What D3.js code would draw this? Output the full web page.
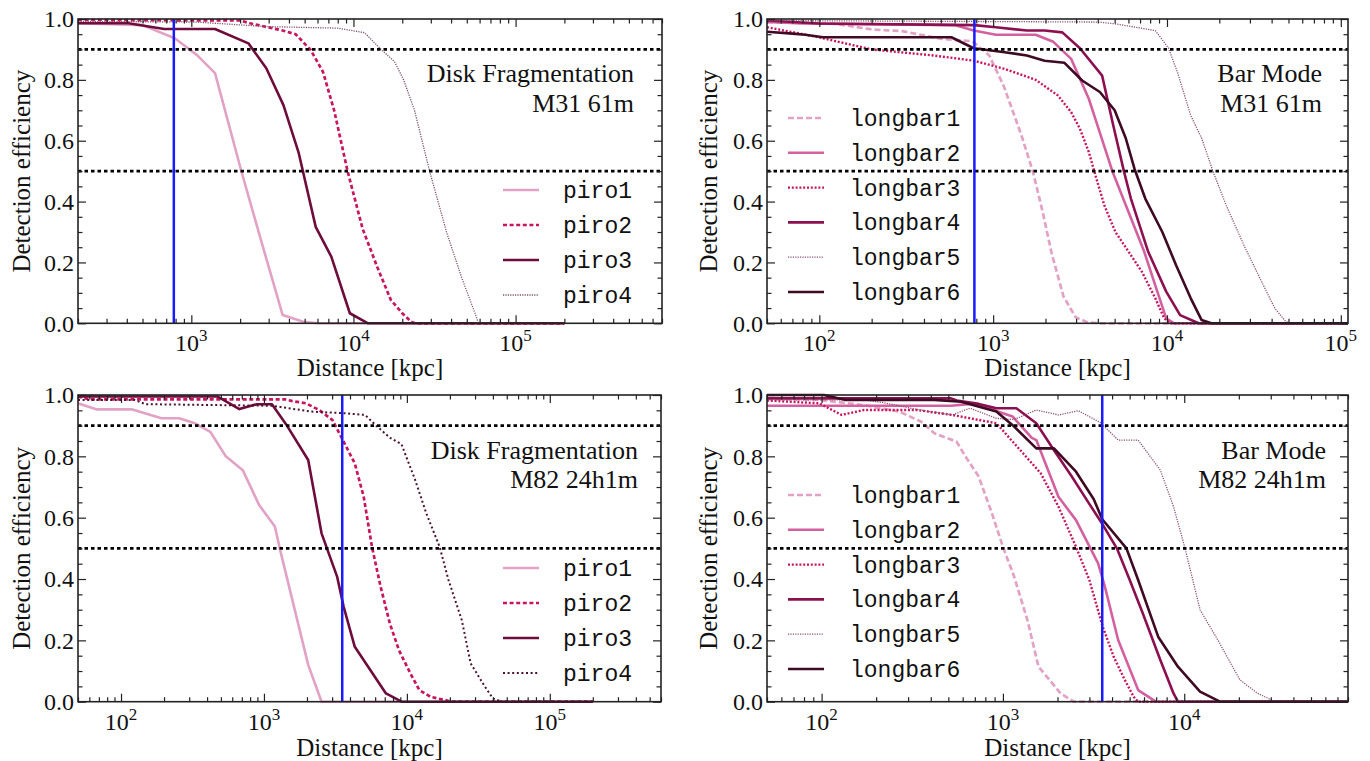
<!DOCTYPE html>
<html>
<head>
<meta charset="utf-8">
<script src="https://cdn.jsdelivr.net/npm/d3@7"></script>
<style>
  html, body { margin: 0; padding: 0; background: #ffffff; }
  svg { display: block; }
</style>
</head>
<body>
<svg id="fig" width="1370" height="761"></svg>
<script>
// ---------------- data: [distance (kpc), detection efficiency] ----------------
const piroNames = ["piro1", "piro2", "piro3", "piro4"];
const longbarNames = ["longbar1", "longbar2", "longbar3", "longbar4", "longbar5", "longbar6"];

// Disk fragmentation, M31 61m
const m31Piro1 = [[200,0.986],[500,0.98],[790,0.937],[1080,0.882],[1400,0.822],[2040,0.498],[2700,0.27],[3660,0.027],[4900,0.005],[6000,0],[2e5,0]];
const m31Piro2 = [[200,0.997],[2000,0.995],[2300,0.986],[3600,0.963],[4400,0.95],[5450,0.898],[6500,0.825],[7600,0.70],[9200,0.50],[11400,0.31],[14000,0.186],[17000,0.077],[20000,0.033],[22700,0.005],[24000,0],[2e5,0]];
const m31Piro3 = [[200,0.986],[410,0.986],[680,0.967],[1400,0.967],[2250,0.92],[2900,0.838],[3700,0.717],[4600,0.559],[5850,0.317],[7300,0.219],[9500,0.033],[12300,0],[2e5,0]];
const m31Piro4 = [[200,0.992],[1070,0.99],[2900,0.975],[8000,0.97],[11700,0.955],[14800,0.9],[17900,0.86],[20400,0.8],[23800,0.7],[29500,0.5],[37500,0.3],[46500,0.15],[56500,0.03],[59000,0],[2e5,0]];

// Bar mode, M31 61m
const m31Longbar1 = [[50,0.99],[120,0.985],[205,0.965],[300,0.96],[500,0.935],[760,0.927],[950,0.88],[1150,0.78],[1450,0.62],[1690,0.50],[1920,0.37],[2170,0.23],[2540,0.088],[2980,0.02],[3500,0.003],[4200,0],[1.1e5,0]];
const m31Longbar2 = [[50,0.99],[80,0.985],[600,0.98],[773,0.962],[1036,0.948],[1757,0.948],[2220,0.925],[2810,0.869],[3550,0.738],[4100,0.628],[4850,0.50],[5800,0.388],[7400,0.235],[8800,0.104],[9900,0.016],[11000,0],[1.1e5,0]];
const m31Longbar3 = [[50,0.973],[99,0.94],[200,0.90],[456,0.88],[773,0.863],[1165,0.836],[1757,0.80],[2355,0.749],[2810,0.694],[3157,0.639],[3550,0.563],[3877,0.486],[4360,0.388],[5050,0.30],[6020,0.235],[7180,0.169],[8570,0.082],[9640,0.016],[10500,0],[1.1e5,0]];
const m31Longbar4 = [[50,0.995],[100,0.985],[780,0.98],[1036,0.973],[1563,0.962],[1976,0.962],[2500,0.956],[3157,0.904],[4235,0.814],[4910,0.65],[5650,0.50],[6200,0.41],[7800,0.235],[9900,0.104],[11900,0.027],[15200,0],[1.1e5,0]];
const m31Longbar5 = [[50,0.995],[3990,0.99],[5050,0.984],[8570,0.962],[10210,0.904],[11490,0.825],[13700,0.683],[15860,0.607],[18370,0.50],[21890,0.388],[27690,0.257],[35000,0.137],[41760,0.049],[48350,0.005],[52000,0],[1.1e5,0]];
const m31Longbar6 = [[50,0.958],[70,0.952],[83,0.948],[105,0.94],[575,0.94],[773,0.904],[1165,0.891],[1563,0.88],[1976,0.863],[2572,0.856],[3250,0.798],[4110,0.76],[5000,0.70],[5800,0.607],[6500,0.508],[7500,0.41],[9400,0.30],[11300,0.19],[13700,0.082],[15800,0.011],[18000,0],[1.1e5,0]];

// Disk fragmentation, M82 24h1m
const m82Piro1 = [[50,0.973],[68,0.953],[120,0.953],[192,0.924],[255,0.924],[328,0.908],[421,0.88],[541,0.80],[711,0.755],[926,0.641],[1193,0.571],[1290,0.50],[2040,0.12],[2530,0],[2e5,0]];
const m82Piro2 = [[50,0.995],[60,0.986],[1400,0.986],[1585,0.98],[1966,0.973],[2436,0.951],[3020,0.918],[3610,0.848],[4320,0.777],[4990,0.668],[5700,0.505],[6550,0.375],[7600,0.255],[8800,0.168],[10590,0.092],[12220,0.038],[14620,0.016],[19460,0.003],[21000,0],[2e5,0]];
const m82Piro3 = [[50,0.995],[475,0.995],[673,0.954],[893,0.97],[1138,0.97],[1427,0.905],[2040,0.788],[2530,0.549],[3250,0.408],[3610,0.31],[4320,0.179],[5760,0.092],[7140,0.027],[9180,0],[2e5,0]];
const m82Piro4 = [[50,0.984],[124,0.984],[149,0.97],[1138,0.965],[2140,0.946],[3820,0.94],[5100,0.935],[6100,0.90],[7640,0.86],[9160,0.84],[11430,0.723],[13680,0.614],[16950,0.505],[19550,0.397],[24220,0.266],[27950,0.125],[34620,0.054],[39930,0.011],[46100,0],[2e5,0]];

// Bar mode, M82 24h1m
const m82Longbar1 = [[50,0.989],[97,0.984],[171,0.967],[268,0.946],[354,0.913],[419,0.875],[555,0.848],[621,0.80],[735,0.734],[870,0.614],[1000,0.505],[1153,0.408],[1365,0.266],[1571,0.114],[1808,0.071],[2080,0.027],[2460,0],[8e4,0]];
const m82Longbar2 = [[50,0.965],[518,0.965],[693,0.972],[1130,0.93],[1443,0.86],[1528,0.853],[2024,0.668],[2530,0.592],[3350,0.451],[3650,0.375],[4320,0.201],[5570,0.038],[6970,0],[8e4,0]];
const m82Longbar3 = [[50,0.982],[97,0.973],[129,0.935],[171,0.951],[335,0.951],[525,0.935],[920,0.908],[1291,0.81],[1615,0.745],[2024,0.636],[2530,0.505],[2995,0.397],[3550,0.245],[4080,0.147],[4700,0.071],[5260,0.016],[5560,0],[8e4,0]];
const m82Longbar4 = [[50,0.989],[518,0.989],[556,0.982],[736,0.971],[920,0.957],[1186,0.957],[1528,0.908],[1913,0.82],[2393,0.735],[2995,0.645],[3530,0.58],[4250,0.50],[4980,0.40],[5890,0.29],[7380,0.136],[8730,0.027],[9230,0],[8e4,0]];
const m82Longbar5 = [[50,0.984],[171,0.984],[220,0.975],[335,0.953],[525,0.935],[657,0.957],[920,0.924],[1153,0.92],[1528,0.951],[2024,0.935],[2600,0.949],[3450,0.91],[4320,0.853],[5570,0.853],[7380,0.755],[8730,0.636],[10050,0.505],[12240,0.299],[15320,0.201],[20280,0.071],[25410,0.027],[31770,0],[8e4,0]];
const m82Longbar6 = [[50,1.0],[103,1.0],[136,0.984],[419,0.984],[588,0.978],[920,0.946],[1153,0.897],[1528,0.826],[1913,0.826],[2530,0.75],[3170,0.66],[3530,0.595],[4800,0.50],[5570,0.397],[7180,0.212],[9230,0.114],[12220,0.033],[15740,0],[8e4,0]];

// reference levels and galaxy distances (kpc)
const efficiencyLevels = [0.9, 0.5];
const m31Distance = 780;
const m82Distance = 3530;

// axis ticks
const yMajorTicks = [0, 0.2, 0.4, 0.6, 0.8, 1.0];
const yTickLabels = ["0.0", "0.2", "0.4", "0.6", "0.8", "1.0"];
const xLabel = "Distance [kpc]";
const yLabel = "Detection efficiency";

// panel annotations
const m31DiskTitle = ["Disk Fragmentation", "M31 61m"];
const m31BarTitle = ["Bar Mode", "M31 61m"];
const m82DiskTitle = ["Disk Fragmentation", "M82 24h1m"];
const m82BarTitle = ["Bar Mode", "M82 24h1m"];

// ---------------- styles ----------------
const piroStylesTop = [
  { color: "#e2a2c6", width: 2.6, dash: null },
  { color: "#c8155f", width: 2.7, dash: "4,2.6" },
  { color: "#6e0c3c", width: 2.6, dash: null },
  { color: "#7d5068", width: 1.3, dash: "1.2,1.2" }
];
const piroStylesBottom = [
  { color: "#e2a2c6", width: 2.6, dash: null },
  { color: "#c8155f", width: 2.7, dash: "4,2.6" },
  { color: "#6e0c3c", width: 2.6, dash: null },
  { color: "#4a1430", width: 2.0, dash: "2,2.6" }
];
const longbarStyles = [
  { color: "#e2a2c6", width: 2.7, dash: "6,3" },
  { color: "#d4619f", width: 2.6, dash: null },
  { color: "#c8155f", width: 2.4, dash: "2,1.8" },
  { color: "#8c1050", width: 2.6, dash: null },
  { color: "#8a5070", width: 1.3, dash: "1.2,1.2" },
  { color: "#3e0a24", width: 2.6, dash: null }
];

const serif = "'Liberation Serif', 'DejaVu Serif', serif";
const mono = "'Liberation Mono', 'DejaVu Sans Mono', monospace";

const panels = [
  { id: "m31disk", x0: 78, x1: 662, y0: 19, y1: 323.3, domain: [200, 8e5],
    curves: [m31Piro1, m31Piro2, m31Piro3, m31Piro4], names: piroNames, styles: piroStylesTop,
    marker: m31Distance, title: m31DiskTitle, titleX: 634, titleY: [73, 103],
    legend: { lx0: 503, lx1: 539, tx: 563, y: 190, step: 35 }, yLabelX: 21, xLabelY: 367 },
  { id: "m31bar", x0: 767, x1: 1348, y0: 19, y1: 323.3, domain: [50, 1.1e5],
    curves: [m31Longbar1, m31Longbar2, m31Longbar3, m31Longbar4, m31Longbar5, m31Longbar6], names: longbarNames, styles: longbarStyles,
    marker: m31Distance, title: m31BarTitle, titleX: 1322, titleY: [73, 103],
    legend: { lx0: 788, lx1: 824, tx: 850, y: 118, step: 34.8 }, yLabelX: 708, xLabelY: 367 },
  { id: "m82disk", x0: 78, x1: 661, y0: 395, y1: 701.7, domain: [50, 6e5],
    curves: [m82Piro1, m82Piro2, m82Piro3, m82Piro4], names: piroNames, styles: piroStylesBottom,
    marker: m82Distance, title: m82DiskTitle, titleX: 638, titleY: [450, 479],
    legend: { lx0: 503, lx1: 539, tx: 563, y: 568, step: 35 }, yLabelX: 21, xLabelY: 747 },
  { id: "m82bar", x0: 767, x1: 1348, y0: 395, y1: 701.7, domain: [50, 8e4],
    curves: [m82Longbar1, m82Longbar2, m82Longbar3, m82Longbar4, m82Longbar5, m82Longbar6], names: longbarNames, styles: longbarStyles,
    marker: m82Distance, title: m82BarTitle, titleX: 1326, titleY: [450, 479],
    legend: { lx0: 788, lx1: 824, tx: 850, y: 495, step: 34.8 }, yLabelX: 708, xLabelY: 747 }
];

const svg = d3.select("#fig");
const defs = svg.append("defs");

panels.forEach(p => {
  const x = d3.scaleLog().domain(p.domain).range([p.x0, p.x1]);
  const y = d3.scaleLinear().domain([0, 1]).range([p.y1, p.y0]);
  const g = svg.append("g").attr("class", "panel " + p.id);

  defs.append("clipPath").attr("id", "clip-" + p.id)
    .append("rect").attr("x", p.x0).attr("y", p.y0 - 2)
    .attr("width", p.x1 - p.x0).attr("height", p.y1 - p.y0 + 4);

  // curves
  const line = d3.line().x(d => x(d[0])).y(d => y(d[1]));
  const plot = g.append("g").attr("clip-path", `url(#clip-${p.id})`);
  p.curves.forEach((c, i) => {
    const s = p.styles[i];
    plot.append("path").datum(c)
      .attr("d", line)
      .attr("fill", "none")
      .attr("stroke", s.color)
      .attr("stroke-width", s.width)
      .attr("stroke-dasharray", s.dash)
      .attr("stroke-linejoin", "round");
  });

  // efficiency reference levels
  plot.selectAll("line.level").data(efficiencyLevels).enter().append("line")
    .attr("class", "level")
    .attr("x1", p.x0).attr("x2", p.x1)
    .attr("y1", d => y(d)).attr("y2", d => y(d))
    .attr("stroke", "#000").attr("stroke-width", 2.7)
    .attr("stroke-dasharray", "3.5,3");

  // galaxy distance
  plot.append("line")
    .attr("x1", x(p.marker)).attr("x2", x(p.marker))
    .attr("y1", p.y0).attr("y2", p.y1)
    .attr("stroke", "#1a1aff").attr("stroke-width", 2.5);

  // ticks (inward, on all four sides)
  const lo = Math.floor(Math.log10(p.domain[0])), hi = Math.ceil(Math.log10(p.domain[1]));
  const xMajor = [], xMinor = [];
  for (let e = lo; e <= hi; e++) {
    const v = Math.pow(10, e);
    if (v >= p.domain[0] && v <= p.domain[1] * 1.0001) xMajor.push(v);
    for (let k = 2; k <= 9; k++) {
      const m = k * v;
      if (m >= p.domain[0] && m <= p.domain[1]) xMinor.push(m);
    }
  }
  const yMinor = d3.range(0, 1.0001, 0.05).filter(v => !yMajorTicks.some(t => Math.abs(t - v) < 1e-6));

  const tickStyle = sel => {
    sel.select(".domain").remove();
    sel.selectAll(".tick line").attr("stroke", "#222").attr("stroke-width", 1.2);
    sel.selectAll(".tick text").remove();
  };
  const majorLen = 8, minorLen = 4.5;
  g.append("g").attr("transform", `translate(0,${p.y1})`)
    .call(d3.axisBottom(x).tickValues(xMajor).tickSize(-majorLen).tickFormat("")).call(tickStyle);
  g.append("g").attr("transform", `translate(0,${p.y1})`)
    .call(d3.axisBottom(x).tickValues(xMinor).tickSize(-minorLen).tickFormat("")).call(tickStyle);
  g.append("g").attr("transform", `translate(0,${p.y0})`)
    .call(d3.axisTop(x).tickValues(xMajor).tickSize(-majorLen).tickFormat("")).call(tickStyle);
  g.append("g").attr("transform", `translate(0,${p.y0})`)
    .call(d3.axisTop(x).tickValues(xMinor).tickSize(-minorLen).tickFormat("")).call(tickStyle);
  g.append("g").attr("transform", `translate(${p.x0},0)`)
    .call(d3.axisLeft(y).tickValues(yMajorTicks).tickSize(-majorLen).tickFormat("")).call(tickStyle);
  g.append("g").attr("transform", `translate(${p.x0},0)`)
    .call(d3.axisLeft(y).tickValues(yMinor).tickSize(-minorLen).tickFormat("")).call(tickStyle);
  g.append("g").attr("transform", `translate(${p.x1},0)`)
    .call(d3.axisRight(y).tickValues(yMajorTicks).tickSize(-majorLen).tickFormat("")).call(tickStyle);
  g.append("g").attr("transform", `translate(${p.x1},0)`)
    .call(d3.axisRight(y).tickValues(yMinor).tickSize(-minorLen).tickFormat("")).call(tickStyle);

  // frame
  g.append("rect")
    .attr("x", p.x0).attr("y", p.y0)
    .attr("width", p.x1 - p.x0).attr("height", p.y1 - p.y0)
    .attr("fill", "none").attr("stroke", "#222").attr("stroke-width", 1.6);

  // x tick labels as powers of ten
  xMajor.forEach(v => {
    const t = g.append("text")
      .attr("x", x(v)).attr("y", p.y1 + 28)
      .attr("text-anchor", "middle")
      .attr("font-family", serif).attr("font-size", 24).attr("fill", "#111");
    t.append("tspan").text("10");
    t.append("tspan").attr("dy", -10).attr("font-size", 17).text(String(Math.round(Math.log10(v))));
  });

  // y tick labels
  yMajorTicks.forEach((v, i) => {
    g.append("text")
      .attr("x", p.x0 - 4).attr("y", y(v))
      .attr("dy", "0.35em")
      .attr("text-anchor", "end")
      .attr("font-family", serif).attr("font-size", 24).attr("fill", "#111")
      .text(yTickLabels[i]);
  });

  // axis titles
  g.append("text")
    .attr("x", (p.x0 + p.x1) / 2).attr("y", p.xLabelY)
    .attr("dy", "0.35em").attr("text-anchor", "middle")
    .attr("font-family", serif).attr("font-size", 25).attr("fill", "#111")
    .text(xLabel);
  g.append("text")
    .attr("transform", `translate(${p.yLabelX},${(p.y0 + p.y1) / 2}) rotate(-90)`)
    .attr("dy", "0.35em").attr("text-anchor", "middle")
    .attr("font-family", serif).attr("font-size", 25).attr("fill", "#111")
    .text(yLabel);

  // panel annotation
  p.title.forEach((t, i) => {
    g.append("text")
      .attr("x", p.titleX).attr("y", p.titleY[i])
      .attr("dy", "0.35em").attr("text-anchor", "end")
      .attr("font-family", serif).attr("font-size", 26).attr("fill", "#111")
      .text(t);
  });

  // legend
  const L = p.legend;
  p.names.forEach((n, i) => {
    const s = p.styles[i];
    const yy = L.y + i * L.step;
    g.append("line")
      .attr("x1", L.lx0).attr("x2", L.lx1).attr("y1", yy).attr("y2", yy)
      .attr("stroke", s.color).attr("stroke-width", s.width)
      .attr("stroke-dasharray", s.dash);
    g.append("text")
      .attr("x", L.tx).attr("y", yy)
      .attr("dy", "0.35em")
      .attr("font-family", mono).attr("font-size", 23).attr("fill", "#111")
      .text(n);
  });
});
</script>
</body>
</html>
